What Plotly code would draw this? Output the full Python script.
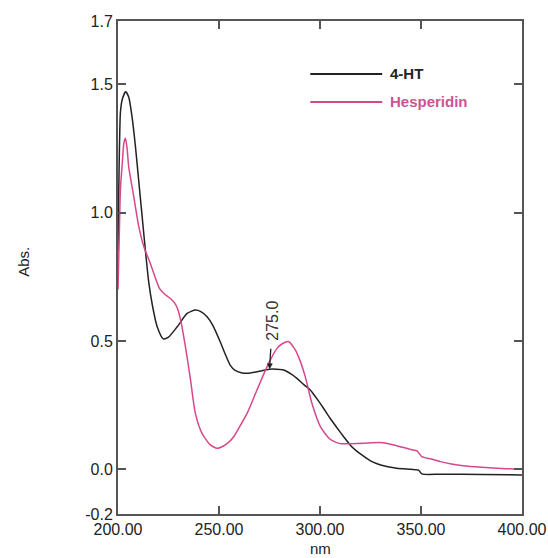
import plotly.graph_objects as go

# 4-HT spectrum (wavelength nm, absorbance)
ht_nm = [200, 200.5, 201.2, 202.1, 203.8, 205.3, 207, 208.6, 210.3, 212, 213.6, 215.2,
         217, 219.4, 222.4, 225, 229.3, 234.2, 238.3, 241, 244.1, 247, 250.7, 253,
         255.6, 258, 261, 264, 268.8, 275, 282, 286, 288.6, 292, 295.2, 298, 301.8, 305,
         308.4, 312, 315, 318, 320, 325, 330, 338, 345, 348.8, 350.4, 360, 380, 400]
ht_abs = [0.85, 1.15, 1.39, 1.44, 1.47, 1.45, 1.37, 1.26, 1.12, 0.98, 0.85, 0.73,
          0.64, 0.555, 0.508, 0.515, 0.555, 0.607, 0.62, 0.614, 0.594, 0.56, 0.495, 0.45,
          0.405, 0.385, 0.376, 0.374, 0.38, 0.39, 0.387, 0.37, 0.354, 0.33, 0.309, 0.28, 0.237, 0.199,
          0.162, 0.124, 0.094, 0.072, 0.06, 0.033, 0.017, 0.004, 0.0, -0.003, -0.018, -0.019, -0.02, -0.022]

# Hesperidin spectrum
hes_nm = [200, 200.6, 201.2, 202.1, 202.9, 203.7, 204.5, 205.3, 207.8, 210.3, 212.8, 216.1,
          218.5, 220.5, 223, 225.5, 228, 229.5, 230.9, 233.4, 235.9, 238.3, 241.6, 245.7, 249,
          250.7, 254, 257.3, 260.5, 263.9, 268.8, 273.8, 278.7, 281.5, 284.5, 287, 289.4,
          292.7, 296, 300.2, 305, 310, 315, 322, 329.8, 335, 339.7, 345, 348, 350.4, 355,
          359.6, 365, 371, 380, 387.6, 400]
hes_abs = [0.70, 0.90, 1.09, 1.19, 1.27, 1.289, 1.25, 1.178, 1.062, 0.945, 0.867, 0.80,
           0.745, 0.705, 0.683, 0.668, 0.648, 0.625, 0.585, 0.477, 0.348, 0.218, 0.14, 0.095, 0.082,
           0.085, 0.10, 0.127, 0.17, 0.218, 0.309, 0.40, 0.471, 0.49, 0.497, 0.475, 0.438,
           0.361, 0.257, 0.166, 0.117, 0.10, 0.10, 0.102, 0.104, 0.098, 0.088, 0.077, 0.072, 0.049, 0.04,
           0.03, 0.021, 0.014, 0.008, 0.004, 0.0]

x_ticks = [200, 250, 300, 350, 400]
x_ticktext = ["200.00", "250.00", "300.00", "350.00", "400.00"]
y_min, y_max = -0.174, 1.746
y_ticks = [y_min, 0.0, 0.5, 1.0, 1.5, y_max]
y_ticktext = ["-0.2", "0.0", "0.5", "1.0", "1.5", "1.7"]

marker_nm, marker_abs, marker_label = 275, 0.39, "275.0"

BLACK = "#222222"
PINK = "#d6478c"
AXIS = "#555555"
FONT = "Liberation Sans, Arial, sans-serif"

fig = go.Figure()
fig.add_trace(go.Scatter(x=ht_nm, y=ht_abs, mode="lines", name="4-HT",
                         line=dict(color=BLACK, width=1.5, shape="spline", smoothing=0.6)))
fig.add_trace(go.Scatter(x=hes_nm, y=hes_abs, mode="lines", name="Hesperidin",
                         line=dict(color=PINK, width=1.5, shape="spline", smoothing=0.6)))

axis_common = dict(showline=True, linecolor=AXIS, linewidth=2, mirror="ticks",
                   ticks="inside", ticklen=8, tickwidth=2, tickcolor=AXIS,
                   showgrid=False, zeroline=False, automargin=False,
                   ticklabeloverflow="allow",
                   tickfont=dict(family=FONT, size=16, color=BLACK))
fig.update_xaxes(range=[200, 400], tickvals=x_ticks, ticktext=x_ticktext, **axis_common)
fig.update_yaxes(range=[y_min, y_max], tickvals=y_ticks, ticktext=y_ticktext, **axis_common)

# legend drawn manually
legend_items = [("4-HT", BLACK, BLACK, 0.8925), ("Hesperidin", PINK, "#cc5590", 0.8357)]
for name, lc, tc, yy in legend_items:
    fig.add_shape(type="line", xref="paper", yref="paper", x0=0.476, x1=0.654, y0=yy, y1=yy,
                  line=dict(color=lc, width=1.8))
    fig.add_annotation(xref="paper", yref="paper", x=0.668, y=yy, text="<b>%s</b>" % name,
                       showarrow=False, xanchor="left", yanchor="middle",
                       font=dict(family=FONT, size=15, color=tc))

# peak marker annotation
fig.add_annotation(x=marker_nm, y=marker_abs, text=marker_label, textangle=-90,
                   showarrow=True, ax=3, ay=-48, arrowhead=2, arrowsize=0.9, arrowwidth=1.3,
                   arrowcolor=BLACK, startstandoff=6, standoff=0,
                   font=dict(family=FONT, size=16, color="#333333"))

# axis titles
fig.add_annotation(xref="paper", yref="paper", x=0.5, y=-0.069, text="nm", showarrow=False,
                   xanchor="center", yanchor="middle", font=dict(family=FONT, size=15, color=BLACK))
fig.add_annotation(xref="paper", yref="paper", x=-0.236, y=0.511, text="Abs.", showarrow=False,
                   textangle=-90, xanchor="center", yanchor="middle",
                   font=dict(family=FONT, size=15, color=BLACK))

fig.update_layout(width=548, height=558, showlegend=False,
                  margin=dict(l=118, r=26, t=21, b=44),
                  plot_bgcolor="white", paper_bgcolor="white")

fig.write_html("out.html")
